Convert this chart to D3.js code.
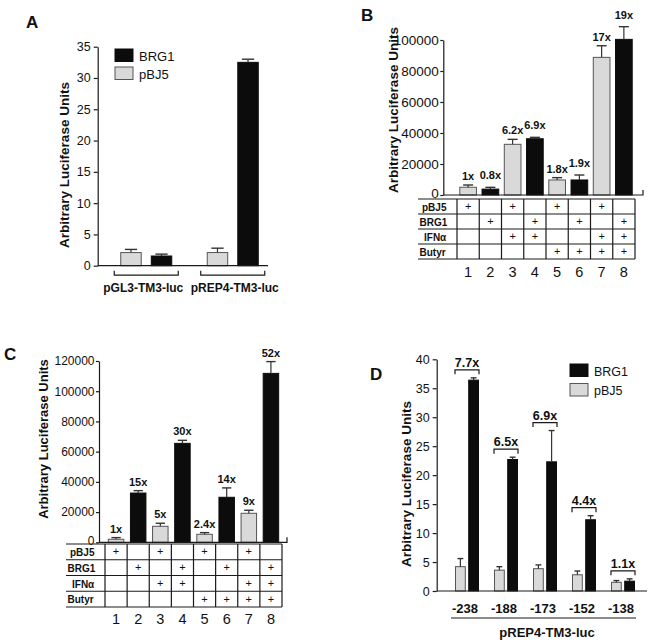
<!DOCTYPE html>
<html><head><meta charset="utf-8">
<script src="https://cdn.jsdelivr.net/npm/d3@7"></script>
<style>
body{margin:0;background:#fff}
svg{display:block}
text{font-family:"Liberation Sans",Arial,Helvetica,sans-serif;fill:#111}
</style>
</head><body>
<svg id="fig" width="656" height="643"></svg>
<script>
// ---------- DATA ----------
// Panel A
const groupsA = ["pGL3-TM3-luc", "pREP4-TM3-luc"];
const seriesA = ["pBJ5", "BRG1"];
const pbj5A = [2.1, 2.1];
const pbj5ErrA = [0.5, 0.7];
const brg1A = [1.55, 32.5];
const brg1ErrA = [0.3, 0.5];
const ticksA = [0, 5, 10, 15, 20, 25, 30, 35];

// Panels B & C (shared lane layout)
const lanes = ["1", "2", "3", "4", "5", "6", "7", "8"];
const vectorLanes = ["pBJ5", "BRG1", "pBJ5", "BRG1", "pBJ5", "BRG1", "pBJ5", "BRG1"];
const rowLabels = ["pBJ5", "BRG1", "IFNα", "Butyr"];
const pbj5Row = [1, 0, 1, 0, 1, 0, 1, 0];
const brg1Row = [0, 1, 0, 1, 0, 1, 0, 1];
const ifnRow = [0, 0, 1, 1, 0, 0, 1, 1];
const butyrRow = [0, 0, 0, 0, 1, 1, 1, 1];

// Panel B
const valuesB = [5000, 3800, 32700, 36300, 9700, 9700, 88800, 100400];
const errB = [1450, 1150, 3200, 900, 1500, 3200, 7500, 8200];
const foldB = ["1x", "0.8x", "6.2x", "6.9x", "1.8x", "1.9x", "17x", "19x"];
const ticksB = [0, 20000, 40000, 60000, 80000, 100000];

// Panel C
const valuesC = [2000, 32600, 10600, 65500, 5300, 29800, 19200, 111800];
const errC = [1100, 1600, 2000, 2000, 1100, 6200, 2000, 7800];
const foldC = ["1x", "15x", "5x", "30x", "2.4x", "14x", "9x", "52x"];
const ticksC = [0, 20000, 40000, 60000, 80000, 100000, 120000];

// Panel D
const constructsD = ["-238", "-188", "-173", "-152", "-138"];
const pbj5D = [4.2, 3.6, 3.85, 2.8, 1.5];
const pbj5ErrD = [1.4, 0.6, 0.65, 0.65, 0.3];
const brg1D = [36.4, 22.7, 22.3, 12.3, 1.7];
const brg1ErrD = [0.4, 0.4, 5.4, 0.7, 0.4];
const foldD = ["7.7x", "6.5x", "6.9x", "4.4x", "1.1x"];
const ticksD = [0, 5, 10, 15, 20, 25, 30, 35, 40];

// ---------- STYLE ----------
const fillOf = {pBJ5: "#d9d9d9", BRG1: "#0c0c0c"};
const strokeOf = {pBJ5: "#555", BRG1: "#0c0c0c"};
const ink = "#1a1a1a";

const svg = d3.select("#fig");

function styleAxis(g, size) {
  g.selectAll("path.domain").attr("stroke", ink).attr("stroke-width", 1.2);
  g.selectAll(".tick line").attr("stroke", ink).attr("stroke-width", 1.2);
  g.selectAll(".tick text").attr("font-size", size).attr("fill", ink)
    .style("font-family", '"Liberation Sans",Arial,sans-serif');
}

function bar(g, x, w, y0, y1, series, yErr) {
  g.append("rect").attr("x", x).attr("width", w)
    .attr("y", y1).attr("height", y0 - y1)
    .attr("fill", fillOf[series]).attr("stroke", strokeOf[series]).attr("stroke-width", 1);
  const cx = x + w / 2, cap = w * 0.3;
  g.append("line").attr("x1", cx).attr("x2", cx).attr("y1", y1).attr("y2", yErr)
    .attr("stroke", "#333").attr("stroke-width", 1.2);
  g.append("line").attr("x1", cx - cap).attr("x2", cx + cap).attr("y1", yErr).attr("y2", yErr)
    .attr("stroke", "#333").attr("stroke-width", 1.4);
}

function yTitle(x, y, size) {
  svg.append("text").attr("transform", `translate(${x},${y}) rotate(-90)`)
    .attr("text-anchor", "middle").attr("dominant-baseline", "central")
    .attr("font-size", size).attr("font-weight", "bold").text("Arbitrary Luciferase Units");
}

function panelLetter(t, x, y) {
  svg.append("text").attr("x", x).attr("y", y).attr("font-size", 17)
    .attr("font-weight", "bold").text(t);
}

function legend(x, y, gap, size) {
  ["BRG1", "pBJ5"].forEach((s, i) => {
    svg.append("rect").attr("x", x).attr("y", y + i * gap).attr("width", 18).attr("height", 12.5)
      .attr("fill", fillOf[s]).attr("stroke", strokeOf[s]).attr("stroke-width", 1);
    svg.append("text").attr("x", x + 24).attr("y", y + i * gap + 11.5)
      .attr("font-size", size).text(s);
  });
}

// ---------- PANEL A ----------
(function () {
  const axX = 97.7;
  const y = d3.scaleLinear().domain([0, 35]).range([265.7, 46.7]);
  const x = d3.scaleBand().domain(groupsA).range([103, 276]);
  const xi = d3.scaleBand().domain(seriesA)
    .range([x.bandwidth() / 2 - 25.5, x.bandwidth() / 2 + 25.5]).paddingInner(0.33);
  const g = svg.append("g");
  groupsA.forEach((grp, i) => {
    const vals = {pBJ5: [pbj5A[i], pbj5ErrA[i]], BRG1: [brg1A[i], brg1ErrA[i]]};
    seriesA.forEach(s => {
      const [v, e] = vals[s];
      bar(g, x(grp) + xi(s), xi.bandwidth(), y(0), y(v), s, y(v + e));
    });
    const cx = x(grp) + x.bandwidth() / 2;
    g.append("path").attr("d", `M${cx - 32},${y(0) + 5}V${y(0) + 9.5}H${cx + 32}V${y(0) + 5}`)
      .attr("fill", "none").attr("stroke", ink).attr("stroke-width", 1.2);
    svg.append("text").attr("x", cx + (i === 0 ? -3 : 2)).attr("y", 292).attr("text-anchor", "middle")
      .attr("font-size", 12).attr("font-weight", "bold").text(grp);
  });
  const ax = svg.append("g").attr("transform", `translate(${axX},0)`)
    .call(d3.axisLeft(y).tickValues(ticksA).tickSize(4).tickSizeOuter(0).tickPadding(3));
  styleAxis(ax, 12.5);
  svg.append("line").attr("x1", axX).attr("x2", 268).attr("y1", y(0)).attr("y2", y(0))
    .attr("stroke", ink).attr("stroke-width", 1.2);
  legend(115, 49, 18, 13);
  yTitle(64, 165, 13.5);
  panelLetter("A", 26, 28);
})();

// ---------- PANELS B & C ----------
function lanePanel(opt) {
  const y = d3.scaleLinear().domain([0, opt.yMax]).range([opt.y0, opt.yTop]);
  const x = d3.scaleBand().domain(lanes).range([opt.tL, opt.tR])
    .paddingInner(opt.pad).paddingOuter(opt.pad / 2);
  const g = svg.append("g");
  lanes.forEach((ln, i) => {
    const s = vectorLanes[i];
    const v = opt.values[i], e = opt.err[i];
    bar(g, x(ln), x.bandwidth(), y(0), y(v), s, y(v + e));
    g.append("text").attr("x", x(ln) + x.bandwidth() / 2)
      .attr("y", y(v + e) - (opt.gapOf ? opt.gapOf(s) : 5))
      .attr("text-anchor", "middle").attr("font-size", 11).attr("font-weight", "bold")
      .text(opt.fold[i]);
  });
  const ax = svg.append("g").attr("transform", `translate(${opt.axX},0)`)
    .call(d3.axisLeft(y).tickValues(opt.ticks).tickFormat(d3.format("d"))
      .tickSize(3).tickSizeOuter(0).tickPadding(1.5));
  styleAxis(ax, opt.tickFont);
  ax.selectAll(".tick text").filter(d => d === 0).attr("dy", "0.18em");
  svg.append("path").attr("d", `M${opt.axX},${y(0)}H${opt.axR}V${y(0) - 5}`)
    .attr("fill", "none").attr("stroke", ink).attr("stroke-width", 1.2);

  // condition table
  const step = x.step();
  const rows = [pbj5Row, brg1Row, ifnRow, butyrRow];
  const t = svg.append("g");
  for (let r = 0; r <= rows.length; r++) {
    const yy = opt.tTop + r * opt.rh;
    t.append("line").attr("x1", opt.tLeft).attr("x2", opt.tR).attr("y1", yy).attr("y2", yy)
      .attr("stroke", ink).attr("stroke-width", 1.2);
  }
  for (let c = 0; c <= lanes.length; c++) {
    const xx = opt.tL + c * step;
    t.append("line").attr("x1", xx).attr("x2", xx)
      .attr("y1", opt.tTop).attr("y2", opt.tTop + rows.length * opt.rh)
      .attr("stroke", ink).attr("stroke-width", 1.2);
  }
  rows.forEach((row, r) => {
    const cy = opt.tTop + (r + 0.5) * opt.rh;
    t.append("text").attr("x", opt.tLeft + (rowLabels[r] === "IFNα" ? 6 : rowLabels[r] === "pBJ5" ? 4 : 1.5))
      .attr("y", cy + 4.2).attr("font-size", 10).attr("font-weight", "bold").text(rowLabels[r]);
    row.forEach((on, i) => {
      if (!on) return;
      t.append("text").attr("x", x(lanes[i]) + x.bandwidth() / 2).attr("y", cy + 3.5)
        .attr("text-anchor", "middle").attr("font-size", 11).text("+");
    });
  });
  lanes.forEach(ln => {
    svg.append("text").attr("x", x(ln) + x.bandwidth() / 2).attr("y", opt.numY)
      .attr("text-anchor", "middle").attr("font-size", 14.5).attr("fill", "#333").text(ln);
  });
}

lanePanel({
  yMax: 100000, y0: 195, yTop: 40, axX: 443.3, axR: 643, tL: 457, tR: 635, pad: 0.25,
  values: valuesB, err: errB, fold: foldB, ticks: ticksB, tickFont: 13.5,
  tLeft: 418, tTop: 199, rh: 15, numY: 277,
  gapOf: s => (s === "BRG1" ? 8 : 5)
});
yTitle(393, 110, 13.5);
panelLetter("B", 361, 21);

lanePanel({
  yMax: 120000, y0: 542.3, yTop: 361, axX: 99, axR: 287, tL: 105, tR: 282, pad: 0.3,
  values: valuesC, err: errC, fold: foldC, ticks: ticksC, tickFont: 12,
  tLeft: 66, tTop: 544, rh: 15.75, numY: 624,
  gapOf: () => 5
});
yTitle(43, 439, 13);
panelLetter("C", 4, 360);

// ---------- PANEL D ----------
(function () {
  const axX = 436.7;
  const y = d3.scaleLinear().domain([0, 40]).range([591, 359.3]);
  const x = d3.scaleBand().domain(constructsD).range([447.5, 642.5]);
  const xi = d3.scaleBand().domain(seriesA)
    .range([x.bandwidth() / 2 - 11.5, x.bandwidth() / 2 + 11.5]).paddingInner(0.26);
  const g = svg.append("g");
  constructsD.forEach((c, i) => {
    const vals = {pBJ5: [pbj5D[i], pbj5ErrD[i]], BRG1: [brg1D[i], brg1ErrD[i]]};
    seriesA.forEach(s => {
      const [v, e] = vals[s];
      bar(g, x(c) + xi(s), xi.bandwidth(), y(0), y(v), s, y(v + e));
    });
    const cx = x(c) + x.bandwidth() / 2;
    const top = Math.max(pbj5D[i] + pbj5ErrD[i], brg1D[i] + brg1ErrD[i]);
    const by = y(top) - 8;
    g.append("path").attr("d", `M${cx - 12},${by + 4.5}V${by}H${cx + 12}V${by + 4.5}`)
      .attr("fill", "none").attr("stroke", ink).attr("stroke-width", 1.2);
    g.append("text").attr("x", cx).attr("y", by - 3).attr("text-anchor", "middle")
      .attr("font-size", 12.5).attr("font-weight", "bold").text(foldD[i]);
    svg.append("text").attr("x", cx - 2).attr("y", 613).attr("text-anchor", "middle")
      .attr("font-size", 13).attr("font-weight", "bold").text(c);
  });
  const ax = svg.append("g").attr("transform", `translate(${axX},0)`)
    .call(d3.axisLeft(y).tickValues(ticksD).tickSize(4).tickSizeOuter(0).tickPadding(3));
  styleAxis(ax, 12.5);
  svg.append("line").attr("x1", axX).attr("x2", 647).attr("y1", y(0)).attr("y2", y(0))
    .attr("stroke", ink).attr("stroke-width", 1.2);
  svg.append("line").attr("x1", 451).attr("x2", 636).attr("y1", 618).attr("y2", 618)
    .attr("stroke", ink).attr("stroke-width", 1.2);
  svg.append("text").attr("x", 547).attr("y", 637).attr("text-anchor", "middle")
    .attr("font-size", 13).attr("font-weight", "bold").text("pREP4-TM3-luc");
  legend(570, 364, 19.5, 12.5);
  yTitle(406, 484, 13.5);
  panelLetter("D", 370, 380);
})();
</script>
</body></html>
